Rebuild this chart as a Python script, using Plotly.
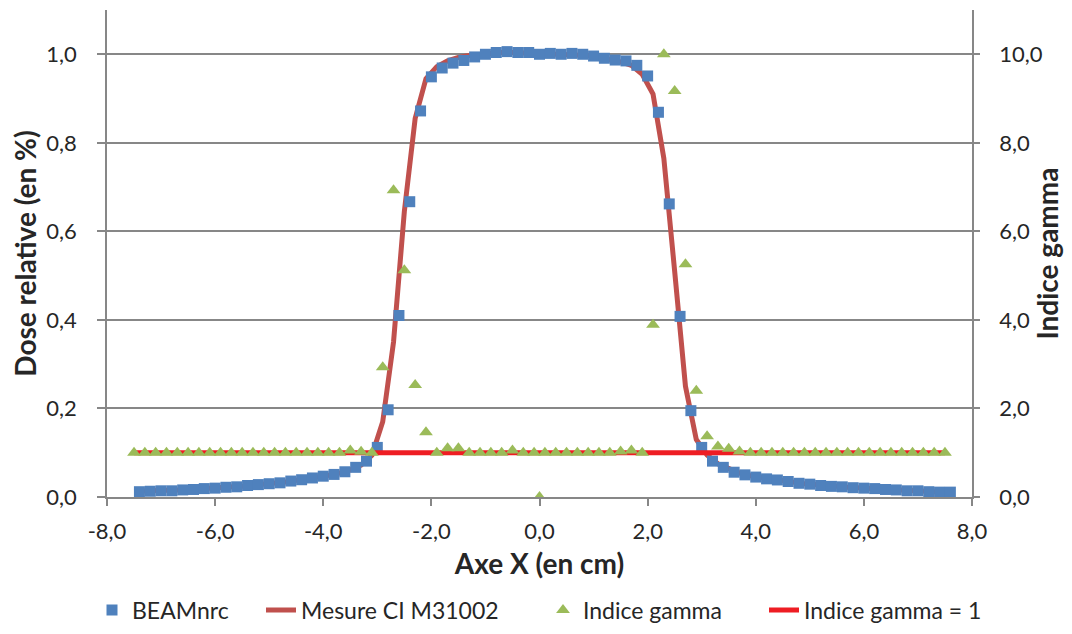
import plotly.graph_objects as go

# BEAMnrc simulation (x every 0.2 cm from -7.4 to 7.6)
beam_x = [round(-7.4 + 0.2 * i, 1) for i in range(76)]
beam_dose = [0.012, 0.013, 0.014, 0.014, 0.016, 0.017, 0.019, 0.020, 0.022, 0.023,
             0.026, 0.028, 0.030, 0.032, 0.036, 0.039, 0.043, 0.047, 0.051, 0.057,
             0.067, 0.081, 0.112, 0.197,
             0.410, 0.667, 0.872, 0.949, 0.969, 0.980, 0.986, 0.994, 1.000, 1.004,
             1.006, 1.004, 1.004, 1.000, 1.002, 1.000, 1.002, 1.000, 0.996, 0.991,
             0.987, 0.985, 0.975, 0.951, 0.869, 0.662, 0.408, 0.195, 0.112, 0.081,
             0.067, 0.056, 0.050, 0.045, 0.041, 0.0385, 0.035, 0.031, 0.029, 0.026,
             0.024, 0.023, 0.021, 0.020, 0.019, 0.017, 0.016, 0.014, 0.014, 0.012,
             0.011, 0.011]

# Measurement CI M31002 (x every 0.2 cm from -7.5 to 7.5)
mes_x = [round(-7.5 + 0.2 * i, 1) for i in range(76)]
mes_dose = [0.013, 0.013, 0.014, 0.015, 0.016, 0.017, 0.018, 0.020, 0.021, 0.022,
            0.024, 0.027, 0.029, 0.031, 0.034, 0.038, 0.041, 0.045, 0.049, 0.054,
            0.061, 0.072, 0.094, 0.170, 0.350, 0.645, 0.855, 0.945, 0.972, 0.985,
            0.993, 0.997, 1.000, 1.002, 1.004, 1.004, 1.003, 1.002, 1.001, 1.001,
            1.001, 1.000, 0.997, 0.993, 0.988, 0.983, 0.975, 0.955, 0.910, 0.765,
            0.510, 0.250, 0.130, 0.095, 0.075, 0.063, 0.054, 0.048, 0.044, 0.040,
            0.037, 0.033, 0.030, 0.028, 0.025, 0.024, 0.022, 0.021, 0.019, 0.018,
            0.017, 0.015, 0.014, 0.013, 0.012, 0.011]

# Gamma index (x every 0.2 cm from -7.5 to 7.5, plus a point at 0)
gamma_x = [round(-7.5 + 0.2 * i, 1) for i in range(76)] + [0.0]
gamma_val = [1.0, 1.0, 1.0, 1.0, 1.0, 1.0, 1.0, 1.0, 1.0, 1.0,
             1.0, 1.0, 1.0, 1.0, 1.0, 1.0, 1.0, 1.0, 1.0, 1.0,
             1.05, 1.02, 1.0, 2.93, 6.93, 5.12, 2.53, 1.46, 1.0, 1.10,
             1.10, 1.0, 1.0, 1.0, 1.0, 1.05, 1.0, 1.0, 1.0, 1.0,
             1.0, 1.0, 1.0, 1.0, 1.0, 1.03, 1.05, 1.0, 3.89, 10.0,
             9.17, 5.26, 2.40, 1.37, 1.14, 1.09, 1.03, 1.0, 1.0, 1.0,
             1.0, 1.0, 1.0, 1.0, 1.0, 1.0, 1.0, 1.0, 1.0, 1.0,
             1.0, 1.0, 1.0, 1.0, 1.0, 1.0] + [0.0]

# Gamma = 1 reference line
ref_x = [-7.5, 7.5]
ref_val = [1.0, 1.0]

# X-axis tick labels (French decimal comma, plain hyphen)
x_ticks = [-8, -6, -4, -2, 0, 2, 4, 6, 8]
x_labels = ["-8,0", "-6,0", "-4,0", "-2,0", "0,0", "2,0", "4,0", "6,0", "8,0"]

FONT = "Lato"
TXT = "#262626"
GRID = "#878787"
W, H = 1056, 618   # page body adds an 8 px margin around the figure

fig = go.Figure()
fig.add_trace(go.Scatter(x=mes_x, y=mes_dose, mode="lines", name="Mesure CI M31002",
                         line=dict(color="#C0504D", width=5), legend="legend2"))
fig.add_trace(go.Scatter(x=beam_x, y=beam_dose, mode="markers", name="BEAMnrc",
                         marker=dict(symbol="square", size=11, color="#4F81BD"),
                         legend="legend"))
fig.add_trace(go.Scatter(x=ref_x, y=ref_val, mode="lines", name="Indice gamma = 1",
                         line=dict(color="#EE1D23", width=5), yaxis="y2", legend="legend4"))
fig.add_trace(go.Scatter(x=gamma_x, y=gamma_val, mode="markers", name="Indice gamma",
                         marker=dict(symbol="triangle-up", size=12, color="#9BBB59"),
                         yaxis="y2", legend="legend3"))

leg_common = dict(orientation="h", yanchor="middle", xanchor="left",
                  xref="container", yref="container",
                  font=dict(family=FONT, size=23, color=TXT), bgcolor="rgba(0,0,0,0)")
LEG_Y = (H - 602) / H

fig.update_layout(
    width=W, height=H,
    showlegend=True,
    margin=dict(l=99, r=92, t=2, b=129, autoexpand=False),
    plot_bgcolor="white", paper_bgcolor="white",
    separators=", ",
    font=dict(family=FONT, size=22, color=TXT),
    legend=dict(x=84 / W, y=LEG_Y, **leg_common),
    legend2=dict(x=253 / W, y=LEG_Y, **leg_common),
    legend3=dict(x=535 / W, y=LEG_Y, **leg_common),
    legend4=dict(x=756 / W, y=LEG_Y, **leg_common),
    xaxis=dict(range=[-8, 8], tickmode="array", tickvals=x_ticks, ticktext=x_labels,
               showgrid=False, zeroline=False, showline=True, linecolor=GRID, linewidth=1.5,
               ticks="outside", ticklen=7, tickcolor=GRID, tickwidth=1.5,
               ticklabelstandoff=7,
               title=dict(text="<b>Axe X (en cm)</b>", font=dict(size=28), standoff=11)),
    yaxis=dict(range=[0, 1.1], dtick=0.2, tick0=0, tickformat=".1f",
               showgrid=True, gridcolor=GRID, gridwidth=1.5, zeroline=False,
               showline=True, linecolor=GRID, linewidth=1.5,
               ticks="outside", ticklen=8, tickcolor=GRID, tickwidth=1.5,
               ticklabelstandoff=16,
               title=dict(text="<b>Dose relative (en %)</b>", font=dict(size=28), standoff=19)),
    yaxis2=dict(range=[0, 11], dtick=2, tick0=0, tickformat=".1f", overlaying="y", side="right",
                showgrid=False, zeroline=False, showline=True, linecolor=GRID, linewidth=1.5,
                ticks="outside", ticklen=6, tickcolor=GRID, tickwidth=1.5,
                ticklabelstandoff=15,
                title=dict(text="<b>Indice gamma</b>", font=dict(size=28), standoff=1)),
)

fig.write_html("out.html")
